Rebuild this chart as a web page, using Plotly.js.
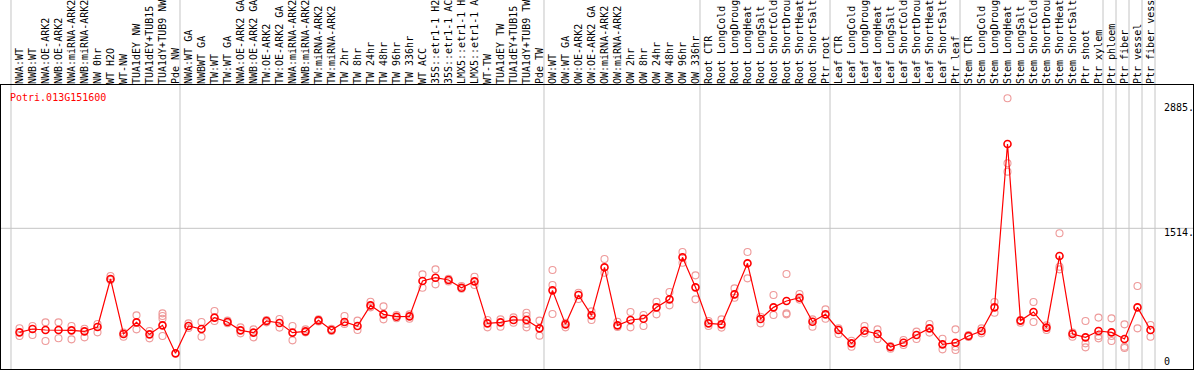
<!DOCTYPE html>
<html>
<head>
<meta charset="utf-8">
<script src="https://cdn.plot.ly/plotly-3.0.1.min.js"></script>
<style>
html,body{margin:0;padding:0;background:#fff;}
#chart{width:1194px;height:370px;}
</style>
</head>
<body>
<div id="chart"></div>
<script>
// ---- data ----
const geneId = 'Potri.013G151600';

const categories = [
 'NWA:WT','NWB:WT','NWA:OE-ARK2','NWB:OE-ARK2','NWA:miRNA-ARK2','NWB:miRNA-ARK2','NW 0hr','WT H2O','WT-NW','TUA1dEY NW','TUA1dEY+TUB15 NW','TUA1dY+TUB9 NW','Pde NW',
 'NWA:WT GA','NWBWT GA','TW:WT','TW:WT GA','NWA:OE-ARK2 GA','NWB:OE-ARK2 GA','TW:OE-ARK2','TW:OE-ARK2 GA','NWA:miRNA-ARK2 GA','NWB:miRNA-ARK2 GA','TW:miRNA-ARK2','TW:miRNA-ARK2 GA','TW 2hr','TW 8hr','TW 24hr','TW 48hr','TW 96hr','TW 336hr','WT ACC','35S::etr1-1 H2O','35S::etr1-1 ACC','LMX5::etr1-1 H2O','LMX5::etr1-1 ACC','WT-TW','TUA1dEY TW','TUA1dEY+TUB15 TW','TUA1dY+TUB9 TW','Pde TW',
 'OW:WT','OW:WT GA','OW:OE-ARK2','OW:OE-ARK2 GA','OW:miRNA-ARK2','OW:miRNA-ARK2 GA','OW 2hr','OW 8hr','OW 24hr','OW 48hr','OW 96hr','OW 336hr',
 'Root CTR','Root LongCold','Root LongDrought','Root LongHeat','Root LongSalt','Root ShortCold','Root ShortDrought','Root ShortHeat','Root ShortSalt','Ptr root',
 'Leaf CTR','Leaf LongCold','Leaf LongDrought','Leaf LongHeat','Leaf LongSalt','Leaf ShortCold','Leaf ShortDrought','Leaf ShortHeat','Leaf ShortSalt','Ptr leaf',
 'Stem CTR','Stem LongCold','Stem LongDrought','Stem LongHeat','Stem LongSalt','Stem ShortCold','Stem ShortDrought','Stem ShortHeat','Stem ShortSalt','Ptr shoot','Ptr xylem',
 'Ptr phloem','Ptr fiber','Ptr vessel','Ptr fiber vessel'
];

// index of first category of each separated block (last value = end)
const groupStarts = [0, 13, 41, 53, 63, 73, 84, 85, 86, 87, 88];

const meanExpr = [
 370,407,396,396,392,381,429,957,352,480,348,447,139,
 440,407,532,484,392,367,495,473,367,381,502,396,484,440,667,568,542,546,935,971,946,861,931,469,480,506,506,414,
 832,458,781,557,1085,447,506,520,645,733,1195,865,
 469,458,788,1129,517,645,715,751,487,568,
 396,249,388,352,209,256,341,414,238,256,
 330,385,645,2442,499,594,422,1210,352,315,385,
 370,297,645,396
];

const rep1 = [
 415,440,480,480,440,410,462,990,322,557,385,579,null,
 469,484,605,499,425,403,506,517,440,403,513,410,550,499,707,656,560,568,1008,1063,960,880,982,506,513,535,586,499,
 1056,476,806,601,1177,487,594,561,707,814,1254,997,
 495,513,854,1254,542,781,1012,792,432,623,
 414,212,440,403,191,286,378,462,300,403,
 320,414,704,2945,506,704,396,1460,322,495,532,
 524,458,880,451
];

const rep2 = [
 330,341,275,305,293,315,370,946,367,403,304,520,null,
 418,322,495,470,359,315,480,422,282,370,490,385,462,396,645,513,525,520,861,898,930,850,891,425,432,476,550,334,
 891,425,737,506,1026,429,425,440,568,667,1136,733,
 440,422,751,964,469,561,579,730,513,520,
 352,278,359,297,220,231,297,367,183,212,
 340,359,586,2229,476,484,447,1092,367,249,330,
 330,212,414,322
];

const rep3 = [
 null,null,null,null,null,null,null,null,null,null,null,330,null,
 null,null,null,null,null,null,null,null,null,null,null,null,null,null,null,null,null,null,null,null,null,null,null,null,null,null,462,null,
 572,null,null,null,null,null,null,null,null,null,null,null,
 null,null,null,null,null,null,568,null,null,null,
 null,null,null,null,null,null,null,null,null,176,
 null,null,null,2137,null,null,null,1063,null,205,304,
 275,198,null,null
];

const rep4 = [
 null,null,null,null,null,null,null,null,null,null,null,550,null,
 null,null,null,null,null,null,null,null,null,null,null,null,null,null,null,null,null,null,null,null,null,null,null,null,null,null,425,null,
 null,null,null,null,null,null,null,null,null,null,null,null,
 null,null,null,null,null,null,null,null,null,null,
 null,null,null,null,null,null,null,null,null,null,
 null,null,null,null,null,null,null,null,null,null,null,
 null,null,null,null
];

const yTickVals = [0, 1514, 2885];
const yTickText = ['0', '1514.', '2885.'];

// ---- chart ----
const FONT = 'DejaVu Sans Mono, monospace';
const xIdx = categories.map((_, i) => i);
const xRange = [-1.4231, 90.269];
const yRange = [-33, 3090];

const repTraces = [rep1, rep2, rep3, rep4].map(r => ({
  x: xIdx, y: r, type: 'scatter', mode: 'markers', hoverinfo: 'skip',
  marker: {symbol: 'circle-open', size: 7, color: '#ee9a9a', line: {width: 1.1, color: '#ee9a9a'}}
}));

const meanTrace = {
  x: xIdx, y: meanExpr, type: 'scatter', mode: 'lines+markers',
  line: {color: '#ff0000', width: 1.2},
  marker: {symbol: 'circle-open', size: 7, color: '#ff0000', line: {width: 1.6, color: '#ff0000'}}
};

const toPaperX = v => (v - xRange[0]) / (xRange[1] - xRange[0]);
const shapes = groupStarts.map(g => ({
  type: 'line', xref: 'paper', yref: 'paper',
  x0: toPaperX(g - 0.654), x1: toPaperX(g - 0.654), y0: 0, y1: 1.31,
  line: {color: '#c4c4c4', width: 1}, layer: 'below'
}));
shapes.push({
  type: 'line', xref: 'paper', yref: 'y', x0: 0, x1: 1, y0: yTickVals[1], y1: yTickVals[1],
  line: {color: '#c4c4c4', width: 1}, layer: 'below'
});

const shifts = [4.3, -4, -4];
const annotations = yTickVals.map((v, i) => ({
  xref: 'paper', yref: 'y', x: (1162 - 1) / 1192, y: v, yshift: shifts[i],
  xanchor: 'left', yanchor: 'middle', showarrow: false, text: yTickText[i],
  font: {family: FONT, size: 10, color: '#000'}
}));
annotations.push({
  xref: 'paper', yref: 'paper', x: 7 / 1192, y: (369 - 97.3) / 284,
  xanchor: 'left', yanchor: 'middle', showarrow: false, text: geneId,
  font: {family: FONT, size: 10, color: '#ff0000'}
});

const layout = {
  width: 1194, height: 370,
  margin: {l: 1, r: 1, t: 85, b: 1, pad: 0},
  paper_bgcolor: '#ffffff', plot_bgcolor: 'rgba(0,0,0,0)',
  showlegend: false, hovermode: false,
  xaxis: {
    side: 'top', range: xRange, tickmode: 'array', tickvals: xIdx, ticktext: categories,
    tickangle: -90, ticks: '', ticklabelstandoff: -2, showgrid: false, zeroline: false,
    showline: true, mirror: true, linecolor: '#000', linewidth: 1,
    tickfont: {family: FONT, size: 10, color: '#000'}, automargin: false
  },
  yaxis: {
    range: yRange, showticklabels: false, ticks: '', showgrid: false, zeroline: false,
    showline: true, mirror: true, linecolor: '#000', linewidth: 1, automargin: false
  },
  shapes: shapes,
  annotations: annotations
};

Plotly.newPlot('chart', [...repTraces, meanTrace], layout, {displayModeBar: false, staticPlot: true});
</script>
</body>
</html>
